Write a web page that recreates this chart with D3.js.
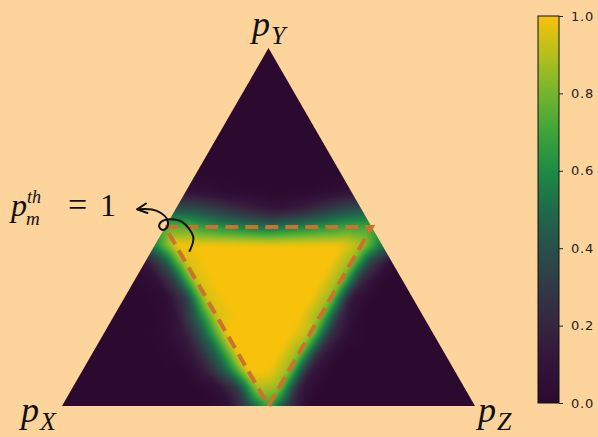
<!DOCTYPE html>
<html>
<head>
<meta charset="utf-8">
<script src="https://cdn.jsdelivr.net/npm/d3@7"></script>
<style>
  body { margin: 0; background: #fdd59c; }
  svg { display: block; }
</style>
</head>
<body>
<svg id="chart" width="598" height="437"></svg>
<script>
// ---- data -------------------------------------------------------------
// Colour bar ticks
const tickValues = [0.0, 0.2, 0.4, 0.6, 0.8, 1.0];

// Colour map (value -> colour)
const cmapStops  = [0, 0.1, 0.2, 0.3, 0.4, 0.5, 0.6, 0.7, 0.8, 0.9, 1.0];
const cmapColors = ["#2c0a2f", "#32133a", "#37253f", "#303a46", "#28504a",
                    "#1f6a4a", "#1f8a44", "#3ea43a", "#74b52e", "#b4bf1d", "#f9c20a"];

// Vertex labels of the simplex: p_X (bottom left), p_Y (top), p_Z (bottom right)
const vertexNames = ["X", "Y", "Z"];

// Threshold triangle (p_m^th = 1): corners as (pX, pY, pZ)
const thresholdCorners = [[0.5, 0.5, 0.0], [0.0, 0.5, 0.5], [0.5, 0.0, 0.5]];

// Simplex grid, step 1/20. Row a: pY = a/20; entry b: pZ = b/20; pX = 1 - pY - pZ.
const gridRows = [
  [0,0,0,0,0,0,0,0,0.05,0.35,0.7,0.25,0,0,0,0,0,0,0,0,0],
  [0,0,0,0,0,0,0,0.05,0.3,0.9,0.85,0.15,0,0,0,0,0,0,0,0],
  [0,0,0,0,0,0,0.18,0.5,1,1,0.85,0.15,0,0,0,0,0,0,0],
  [0,0,0,0,0.03,0.18,0.5,1,1,1,0.85,0.2,0,0,0,0,0,0],
  [0,0,0,0.03,0.15,0.5,1,1,1,1,0.9,0.25,0.03,0,0,0,0],
  [0,0,0,0.1,0.45,0.95,1,1,1,1,0.85,0.2,0,0,0,0],
  [0,0,0.03,0.3,0.95,1,1,1,1,1,0.85,0.12,0,0,0],
  [0,0.05,0.35,0.95,1,1,1,1,1,1,0.85,0.2,0,0],
  [0.08,0.4,0.95,1,1,1,1,1,1,1,0.85,0.3,0.03],
  [0.6,1,1,1,1,1,1,1,1,1,0.9,0.55],
  [0.75,0.75,0.65,0.6,0.55,0.5,0.55,0.6,0.65,0.7,0.7],
  [0.4,0.38,0.3,0.22,0.15,0.1,0.15,0.25,0.35,0.4],
  [0.08,0.05,0.02,0,0,0,0,0.03,0.08],
  [0,0,0,0,0,0,0,0],
  [0,0,0,0,0,0,0],
  [0,0,0,0,0,0],
  [0,0,0,0,0],
  [0,0,0,0],
  [0,0,0],
  [0,0],
  [0]
];
const N = gridRows.length - 1;

// ---- scales -----------------------------------------------------------
const H3 = Math.sqrt(3) / 2;
const x = d3.scaleLinear().domain([0, 1]).range([62, 475]);
const y = d3.scaleLinear().domain([0, H3]).range([406, 48]);
const proj = (pX, pY, pZ) => [x(pZ + pY / 2), y(pY * H3)];
const color = d3.scaleLinear().domain(cmapStops).range(cmapColors).clamp(true);

const svg = d3.select("#chart");
const defs = svg.append("defs");

const corners = [proj(1, 0, 0), proj(0, 1, 0), proj(0, 0, 1)];
defs.append("clipPath").attr("id", "simplex")
  .append("polygon").attr("points", corners.map(d => d.join(",")).join(" "));

// ---- heat map ---------------------------------------------------------
// linear interpolation inside the triangular cells of the grid
function field(pY, pZ) {
  const s = pY * N, t = pZ * N;
  const a0 = Math.floor(s), b0 = Math.floor(t);
  const fa = s - a0, fb = t - b0;
  if (fa + fb <= 1) {
    return gridRows[a0][b0] * (1 - fa - fb) + gridRows[a0 + 1][b0] * fa + gridRows[a0][b0 + 1] * fb;
  }
  return gridRows[a0 + 1][b0 + 1] * (fa + fb - 1) + gridRows[a0 + 1][b0] * (1 - fb) + gridRows[a0][b0 + 1] * (1 - fa);
}

const x0 = Math.floor(x(0)) - 3, x1 = Math.ceil(x(1)) + 3;
const y0 = Math.floor(y(H3)) - 3, y1 = Math.ceil(y(0)) + 3;
const cw = x1 - x0, ch = y1 - y0;
const eps = 1e-4;
let vals = new Float32Array(cw * ch);
for (let j = 0; j < ch; j++) {
  for (let i = 0; i < cw; i++) {
    const u = x.invert(x0 + i + 0.5), v = y.invert(y0 + j + 0.5);
    let pY = v / H3, pZ = u - pY / 2, pX = 1 - pY - pZ;
    pY = Math.max(0, pY); pZ = Math.max(0, pZ); pX = Math.max(0, pX);
    const sum = pX + pY + pZ;
    // keep the sample strictly inside the simplex
    pY = (pY / sum) * (1 - eps) + eps / 3;
    pZ = (pZ / sum) * (1 - eps) + eps / 3;
    vals[j * cw + i] = field(pY, pZ);
  }
}
// box blur to soften the interpolation seams
function blur(src, r) {
  const tmp = new Float32Array(src.length), out = new Float32Array(src.length);
  for (let j = 0; j < ch; j++) for (let i = 0; i < cw; i++) {
    let s = 0, n = 0;
    for (let k = -r; k <= r; k++) { const ii = i + k; if (ii >= 0 && ii < cw) { s += src[j * cw + ii]; n++; } }
    tmp[j * cw + i] = s / n;
  }
  for (let j = 0; j < ch; j++) for (let i = 0; i < cw; i++) {
    let s = 0, n = 0;
    for (let k = -r; k <= r; k++) { const jj = j + k; if (jj >= 0 && jj < ch) { s += tmp[jj * cw + i]; n++; } }
    out[j * cw + i] = s / n;
  }
  return out;
}
vals = blur(blur(vals, 3), 3);

const canvas = document.createElement("canvas");
canvas.width = cw; canvas.height = ch;
const ctx = canvas.getContext("2d");
const img = ctx.createImageData(cw, ch);
for (let k = 0; k < vals.length; k++) {
  const c = d3.rgb(color(vals[k]));
  img.data[4 * k] = c.r; img.data[4 * k + 1] = c.g; img.data[4 * k + 2] = c.b; img.data[4 * k + 3] = 255;
}
ctx.putImageData(img, 0, 0);

svg.append("image")
  .attr("x", x0).attr("y", y0).attr("width", cw).attr("height", ch)
  .attr("href", canvas.toDataURL())
  .attr("clip-path", "url(#simplex)");

// ---- threshold triangle ----------------------------------------------
svg.append("polygon")
  .attr("points", thresholdCorners.map(d => proj(...d).join(",")).join(" "))
  .attr("fill", "none")
  .attr("stroke", "#cc722c")
  .attr("stroke-width", 4)
  .attr("stroke-dasharray", "13 7");

// ---- vertex labels ----------------------------------------------------
const labelPos = [
  { xy: [21, 422], name: vertexNames[0] },
  { xy: [252, 36], name: vertexNames[1] },
  { xy: [478, 422], name: vertexNames[2] }
];
labelPos.forEach(d => {
  const t = svg.append("text")
    .attr("x", d.xy[0]).attr("y", d.xy[1])
    .attr("font-family", "'Liberation Serif', serif")
    .attr("font-style", "italic")
    .attr("font-size", 36)
    .attr("fill", "#111");
  t.append("tspan").text("p");
  t.append("tspan").attr("font-size", 26).attr("dx", 1).attr("dy", 8).text(d.name);
});

// ---- annotation -------------------------------------------------------
const annFont = "'Liberation Serif', serif";
const annParts = [
  { text: "p",  x: 11, y: 216, size: 32, italic: true },
  { text: "th", x: 27, y: 203, size: 18, italic: true },
  { text: "m",  x: 26, y: 225, size: 19, italic: true },
  { text: "=",  x: 68, y: 216, size: 34, italic: false },
  { text: "1",  x: 100, y: 216, size: 32, italic: false }
];
svg.append("g").selectAll("text").data(annParts).join("text")
  .attr("x", d => d.x).attr("y", d => d.y)
  .attr("font-family", annFont)
  .attr("font-size", d => d.size)
  .attr("font-style", d => d.italic ? "italic" : "normal")
  .attr("fill", "#111")
  .text(d => d.text);

const arrowPts = [[189.3, 251.7], [193.3, 236.7], [181.7, 221.7], [170, 219.3], [161, 222],
                  [159.3, 227], [163, 230], [167.5, 226.5], [167, 219], [161, 213],
                  [152, 209.5], [137.5, 209.3]];
svg.append("path")
  .attr("d", d3.line().curve(d3.curveCatmullRom)(arrowPts))
  .attr("fill", "none").attr("stroke", "#111").attr("stroke-width", 2);
svg.append("path")
  .attr("d", "M146,203.5 L137,209.3 L147.5,213")
  .attr("fill", "none").attr("stroke", "#111").attr("stroke-width", 2)
  .attr("stroke-linejoin", "round").attr("stroke-linecap", "round");

// ---- colour bar -------------------------------------------------------
const cb = d3.scaleLinear().domain([0, 1]).range([403, 16]);
const grad = defs.append("linearGradient").attr("id", "cbar")
  .attr("x1", 0).attr("y1", 1).attr("x2", 0).attr("y2", 0);
cmapStops.forEach((s, i) => grad.append("stop").attr("offset", s).attr("stop-color", cmapColors[i]));
svg.append("rect")
  .attr("x", 538).attr("y", cb(1)).attr("width", 21).attr("height", cb(0) - cb(1))
  .attr("fill", "url(#cbar)").attr("stroke", "#111").attr("stroke-width", 1);

const axis = svg.append("g").attr("transform", "translate(559,0)")
  .call(d3.axisRight(cb).tickValues(tickValues).tickFormat(d3.format(".1f")).tickSize(4).tickPadding(8));
axis.select(".domain").remove();
axis.selectAll("text")
  .attr("font-family", "'DejaVu Sans', sans-serif")
  .attr("font-size", 13)
  .attr("letter-spacing", 0.8)
  .attr("fill", "#222");
axis.selectAll("line").attr("stroke", "#222");
</script>
</body>
</html>
